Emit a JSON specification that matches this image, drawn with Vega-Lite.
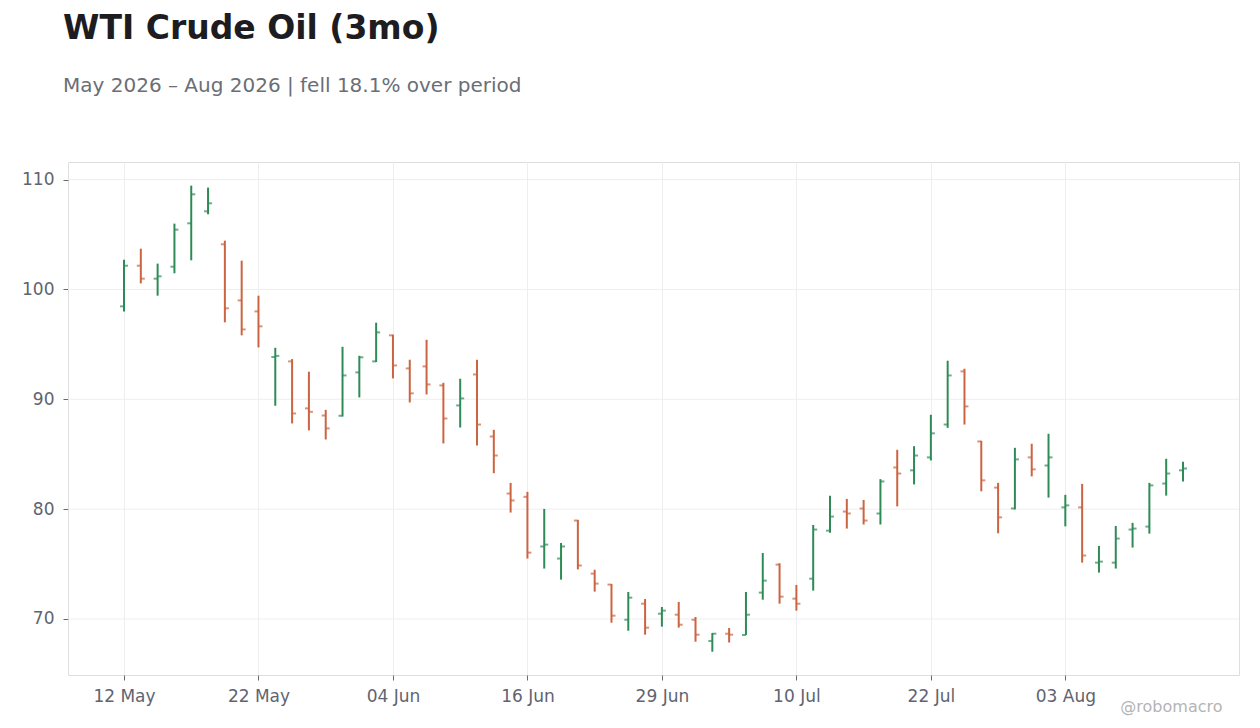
{
  "$schema": "https://vega.github.io/schema/vega-lite/v6.json",
  "autosize": {"type": "none"},
  "padding": {"left": 68, "top": 162, "right": 21, "bottom": 53},
  "width": 1171,
  "height": 513,
  "background": "white",
  "title": {
    "text": "WTI Crude Oil (3mo)",
    "subtitle": "May 2026 – Aug 2026 | fell 18.1% over period",
    "anchor": "start",
    "frame": "group",
    "dx": -5,
    "offset": 66,
    "font": "DejaVu Sans",
    "fontSize": 33,
    "fontWeight": "bold",
    "color": "#1c1c21",
    "subtitleFont": "DejaVu Sans",
    "subtitleFontSize": 20,
    "subtitleColor": "#6b6e76",
    "subtitlePadding": 30
  },
  "config": {
    "view": {"stroke": "#dedede", "strokeWidth": 1},
    "axis": {
      "labelFont": "DejaVu Sans",
      "labelFontSize": 17,
      "labelColor": "#5f6470",
      "gridColor": "#eeeeee",
      "gridWidth": 1,
      "domain": false,
      "tickColor": "#666a72",
      "tickSize": 5,
      "tickWidth": 1
    }
  },
  "layer": [
    {
      "data": {"values": [{"level": 70}, {"level": 80}, {"level": 90}, {"level": 100}, {"level": 110}]},
      "mark": {"type": "rule", "color": "#eeeeee", "strokeWidth": 1},
      "encoding": {
        "y": {
          "field": "level",
          "type": "quantitative",
          "scale": {"domain": [64.9, 111.6], "nice": false, "zero": false},
          "axis": {"values": [70, 80, 90, 100, 110], "labelPadding": 9, "title": null, "grid": false}
        }
      }
    },
    {
      "data": {
        "values": [
          {"date": "2026-05-12", "open": 98.46, "high": 102.71, "low": 98.0, "close": 102.16},
          {"date": "2026-05-13", "open": 102.16, "high": 103.71, "low": 100.55, "close": 100.98},
          {"date": "2026-05-14", "open": 100.98, "high": 102.35, "low": 99.43, "close": 101.19},
          {"date": "2026-05-15", "open": 102.07, "high": 105.99, "low": 101.47, "close": 105.44},
          {"date": "2026-05-18", "open": 106.02, "high": 109.45, "low": 102.65, "close": 108.66},
          {"date": "2026-05-19", "open": 107.11, "high": 109.27, "low": 106.84, "close": 107.84},
          {"date": "2026-05-20", "open": 104.11, "high": 104.44, "low": 97.0, "close": 98.28},
          {"date": "2026-05-21", "open": 99.0, "high": 102.62, "low": 95.82, "close": 96.36},
          {"date": "2026-05-22", "open": 98.0, "high": 99.43, "low": 94.72, "close": 96.64},
          {"date": "2026-05-26", "open": 93.85, "high": 94.69, "low": 89.41, "close": 93.95},
          {"date": "2026-05-27", "open": 93.45, "high": 93.66, "low": 87.8, "close": 88.71},
          {"date": "2026-05-28", "open": 89.17, "high": 92.51, "low": 87.17, "close": 88.86},
          {"date": "2026-05-29", "open": 88.53, "high": 89.04, "low": 86.34, "close": 87.35},
          {"date": "2026-06-01", "open": 88.5, "high": 94.78, "low": 88.43, "close": 92.17},
          {"date": "2026-06-02", "open": 92.45, "high": 93.96, "low": 90.17, "close": 93.82},
          {"date": "2026-06-03", "open": 93.45, "high": 96.97, "low": 93.39, "close": 96.09},
          {"date": "2026-06-04", "open": 95.82, "high": 95.88, "low": 91.9, "close": 93.08},
          {"date": "2026-06-05", "open": 92.81, "high": 93.6, "low": 89.71, "close": 90.54},
          {"date": "2026-06-08", "open": 92.99, "high": 95.42, "low": 90.44, "close": 91.35},
          {"date": "2026-06-09", "open": 91.26, "high": 91.5, "low": 85.98, "close": 88.25},
          {"date": "2026-06-10", "open": 89.44, "high": 91.87, "low": 87.43, "close": 90.08},
          {"date": "2026-06-11", "open": 92.26, "high": 93.6, "low": 85.79, "close": 87.7},
          {"date": "2026-06-12", "open": 86.61, "high": 87.22, "low": 83.27, "close": 84.88},
          {"date": "2026-06-15", "open": 81.42, "high": 82.39, "low": 79.69, "close": 80.79},
          {"date": "2026-06-16", "open": 81.12, "high": 81.57, "low": 75.5, "close": 76.04},
          {"date": "2026-06-17", "open": 76.6, "high": 80.02, "low": 74.59, "close": 76.77},
          {"date": "2026-06-18", "open": 75.5, "high": 76.92, "low": 73.58, "close": 76.6},
          {"date": "2026-06-22", "open": 78.96, "high": 79.02, "low": 74.51, "close": 74.87},
          {"date": "2026-06-23", "open": 74.13, "high": 74.48, "low": 72.49, "close": 73.22},
          {"date": "2026-06-24", "open": 73.13, "high": 73.19, "low": 69.66, "close": 70.3},
          {"date": "2026-06-25", "open": 69.93, "high": 72.46, "low": 68.93, "close": 71.94},
          {"date": "2026-06-26", "open": 71.39, "high": 71.82, "low": 68.57, "close": 69.21},
          {"date": "2026-06-29", "open": 70.48, "high": 71.09, "low": 69.3, "close": 70.76},
          {"date": "2026-06-30", "open": 70.39, "high": 71.55, "low": 69.21, "close": 69.48},
          {"date": "2026-07-01", "open": 69.93, "high": 70.18, "low": 67.93, "close": 68.57},
          {"date": "2026-07-02", "open": 68.0, "high": 68.72, "low": 67.02, "close": 68.66},
          {"date": "2026-07-06", "open": 68.66, "high": 69.18, "low": 67.86, "close": 68.57},
          {"date": "2026-07-07", "open": 68.54, "high": 72.46, "low": 68.54, "close": 70.39},
          {"date": "2026-07-08", "open": 72.4, "high": 76.01, "low": 71.76, "close": 73.49},
          {"date": "2026-07-09", "open": 74.95, "high": 75.07, "low": 71.39, "close": 72.03},
          {"date": "2026-07-10", "open": 71.85, "high": 73.1, "low": 70.76, "close": 71.39},
          {"date": "2026-07-13", "open": 73.67, "high": 78.56, "low": 72.58, "close": 78.14},
          {"date": "2026-07-14", "open": 78.04, "high": 81.21, "low": 77.86, "close": 79.32},
          {"date": "2026-07-15", "open": 79.78, "high": 80.93, "low": 78.23, "close": 79.6},
          {"date": "2026-07-16", "open": 80.06, "high": 80.84, "low": 78.6, "close": 78.96},
          {"date": "2026-07-17", "open": 79.6, "high": 82.73, "low": 78.6, "close": 82.52},
          {"date": "2026-07-20", "open": 83.79, "high": 85.4, "low": 80.25, "close": 83.24},
          {"date": "2026-07-21", "open": 83.53, "high": 85.73, "low": 82.25, "close": 84.88},
          {"date": "2026-07-22", "open": 84.71, "high": 88.59, "low": 84.43, "close": 86.9},
          {"date": "2026-07-23", "open": 87.7, "high": 93.51, "low": 87.4, "close": 92.17},
          {"date": "2026-07-24", "open": 92.54, "high": 92.78, "low": 87.7, "close": 89.35},
          {"date": "2026-07-27", "open": 86.16, "high": 86.22, "low": 81.62, "close": 82.62},
          {"date": "2026-07-28", "open": 81.96, "high": 82.39, "low": 77.8, "close": 79.25},
          {"date": "2026-07-29", "open": 80.06, "high": 85.58, "low": 79.97, "close": 84.53},
          {"date": "2026-07-30", "open": 84.71, "high": 85.95, "low": 82.98, "close": 83.62},
          {"date": "2026-07-31", "open": 83.97, "high": 86.86, "low": 81.05, "close": 84.71},
          {"date": "2026-08-03", "open": 80.16, "high": 81.3, "low": 78.43, "close": 80.34},
          {"date": "2026-08-04", "open": 80.16, "high": 82.3, "low": 75.13, "close": 75.78},
          {"date": "2026-08-05", "open": 75.13, "high": 76.65, "low": 74.22, "close": 75.22},
          {"date": "2026-08-06", "open": 75.13, "high": 78.47, "low": 74.59, "close": 77.32},
          {"date": "2026-08-07", "open": 78.14, "high": 78.75, "low": 76.5, "close": 78.23},
          {"date": "2026-08-10", "open": 78.41, "high": 82.39, "low": 77.77, "close": 82.16},
          {"date": "2026-08-11", "open": 82.33, "high": 84.58, "low": 81.23, "close": 83.24},
          {"date": "2026-08-12", "open": 83.53, "high": 84.31, "low": 82.51, "close": 83.7}
        ]
      },
      "encoding": {
        "x": {
          "field": "date",
          "type": "ordinal",
          "sort": null,
          "scale": {"type": "point", "padding": 0, "range": [56, 1115]},
          "axis": {
            "values": ["2026-05-12", "2026-05-22", "2026-06-04", "2026-06-16", "2026-06-29", "2026-07-10", "2026-07-22", "2026-08-03"],
            "labelExpr": "utcFormat(toDate(datum.value), '%d %b')",
            "labelAngle": 0,
            "labelPadding": 8,
            "grid": true,
            "title": "@robomacro",
            "titleFont": "DejaVu Sans",
            "titleFontSize": 16,
            "titleFontWeight": "normal",
            "titleColor": "#b4b4b4",
            "titleAlign": "right",
            "titleBaseline": "alphabetic",
            "titleX": 1154,
            "titleY": 36
          }
        },
        "color": {
          "condition": {"test": "datum.close >= datum.open", "value": "#2e8b57"},
          "value": "#cb6440"
        }
      },
      "layer": [
        {
          "mark": {"type": "rule", "strokeWidth": 2},
          "encoding": {
            "y": {"field": "low", "type": "quantitative"},
            "y2": {"field": "high"}
          }
        },
        {
          "mark": {"type": "tick", "size": 4, "thickness": 2, "xOffset": -2},
          "encoding": {"y": {"field": "open", "type": "quantitative"}}
        },
        {
          "mark": {"type": "tick", "size": 4, "thickness": 2, "xOffset": 2},
          "encoding": {"y": {"field": "close", "type": "quantitative"}}
        }
      ]
    }
  ]
}
